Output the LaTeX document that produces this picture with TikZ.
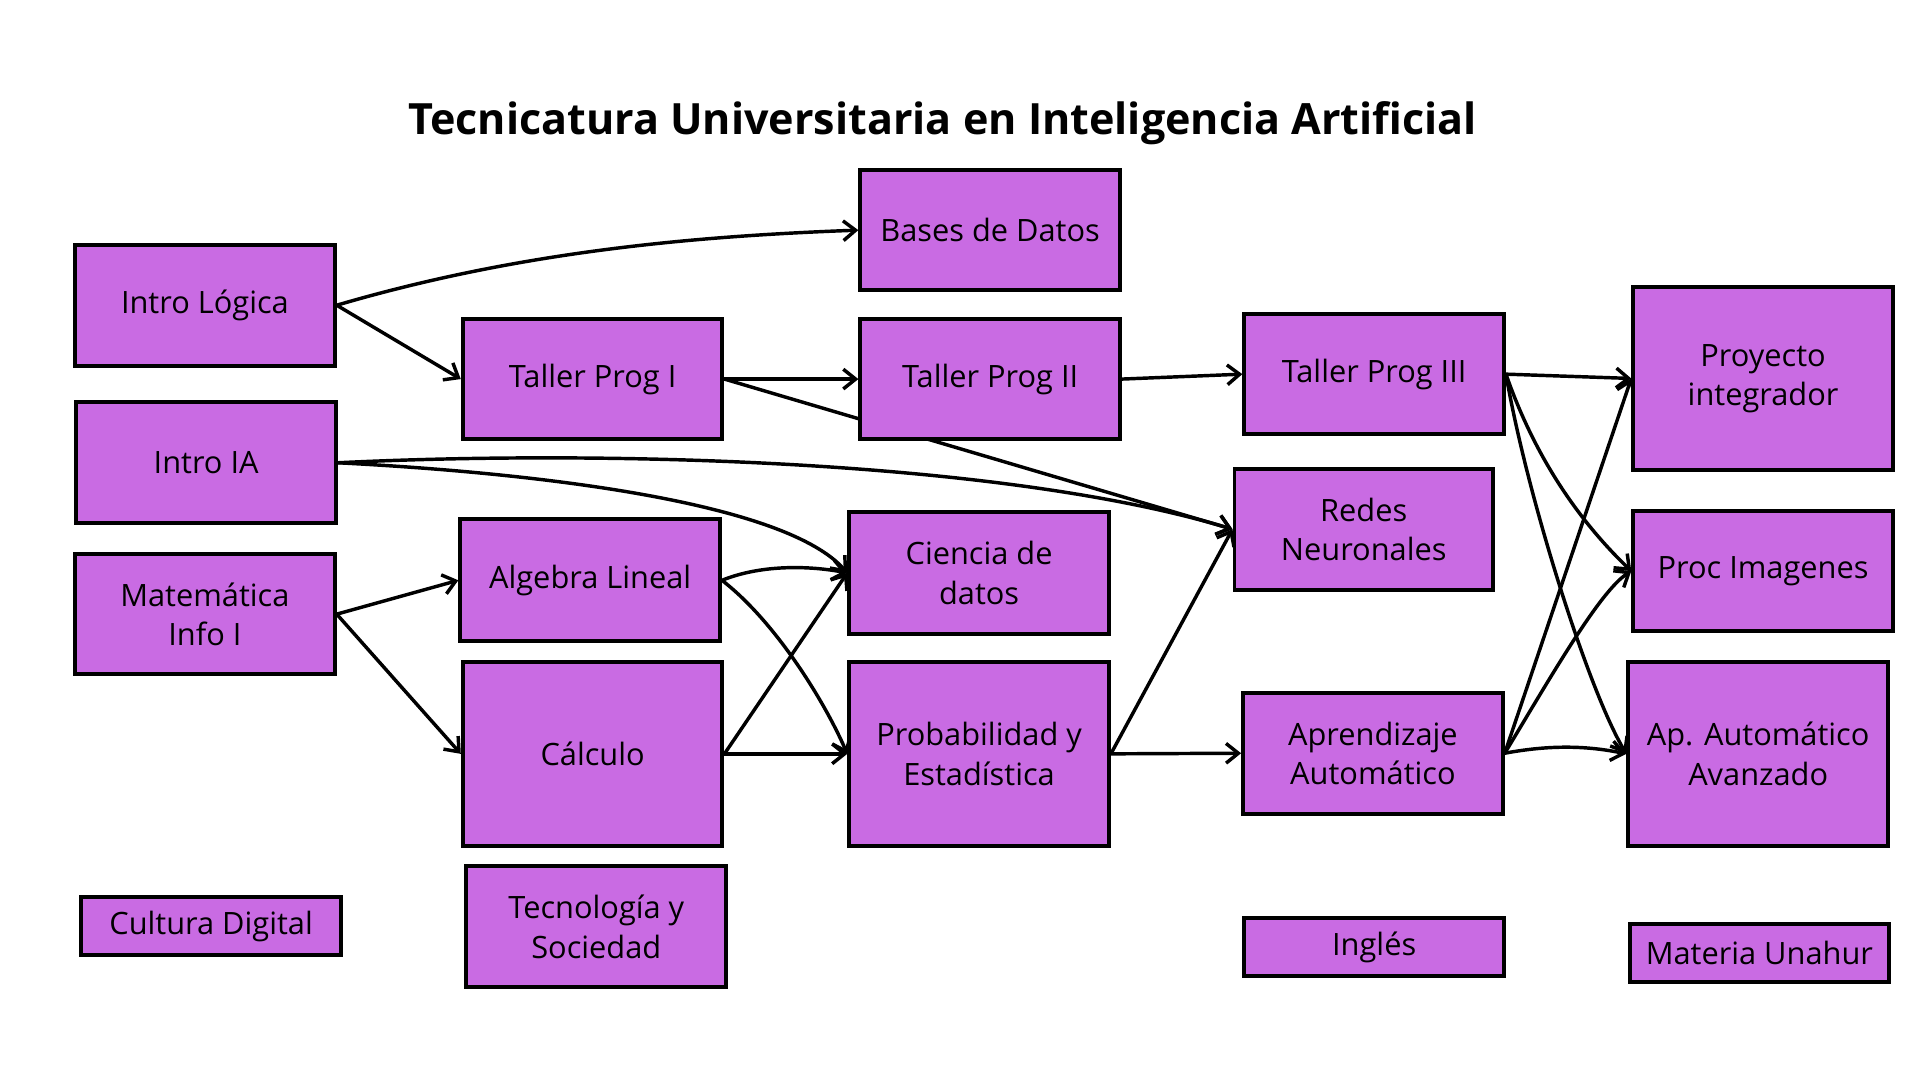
\documentclass[tikz,border=0pt]{standalone}
\usepackage{fontspec}
\setmainfont{Open Sans}
\usetikzlibrary{arrows.meta}
\definecolor{boxc}{HTML}{C96BE3}
\begin{document}
\begin{tikzpicture}[x=0.5pt,y=-0.5pt,
  bx/.style={draw=black,line width=1.6pt,fill=boxc,align=center,font=\fontsize{12.5}{16}\selectfont,inner sep=0pt},
  ar/.style={-{Straight Barb[length=5pt,width=8pt]},line width=1.4pt}]
\useasboundingbox (0,0) rectangle (1560,877);
\node[font=\bfseries\fontsize{17.5}{20}\selectfont] (title) at (766,100) {Tecnicatura Universitaria en Inteligencia Artificial};
\newcommand\bx[6]{\node[bx,minimum width=#4*0.5pt-#2*0.5pt,minimum height=#5*0.5pt-#3*0.5pt] (#1) at ({(#2+#4)/2},{(#3+#5)/2}) {#6};}
\bx{bd}{699}{138}{910}{236}{Bases de Datos}
\bx{il}{61}{199}{272}{297}{Intro Lógica}
\bx{t1}{376}{259}{587}{357}{Taller Prog I}
\bx{t2}{699}{259}{910}{357}{Taller Prog II}
\bx{t3}{1011}{255}{1222}{353}{Taller Prog III}
\bx{pi}{1327}{233}{1538}{382}{Proyecto\\integrador}
\bx{ia}{62}{327}{273}{425}{Intro IA}
\bx{rn}{1003}{381}{1213}{479}{Redes\\Neuronales}
\bx{pr}{1327}{415}{1538}{513}{Proc Imagenes}
\bx{mi}{61}{450}{272}{548}{Matemática\\Info I}
\bx{al}{374}{422}{585}{521}{Algebra Lineal}
\bx{cd}{690}{416}{901}{515}{Ciencia de\\datos}
\bx{ca}{376}{538}{587}{687}{Cálculo}
\bx{pe}{690}{538}{901}{687}{Probabilidad y\\Estadística}
\bx{aa}{1010}{563}{1221}{661}{Aprendizaje\\Automático}
\bx{av}{1323}{538}{1534}{687}{Ap. Automático\\Avanzado}
\bx{cu}{66}{729}{277}{776}{Cultura Digital}
\bx{ts}{379}{704}{590}{802}{Tecnología y\\Sociedad}
\bx{in}{1011}{746}{1222}{793}{Inglés}
\bx{mu}{1324}{751}{1535}{798}{Materia Unahur}
\begin{scope}[on background layer/.style={}]
\end{scope}
\pgfdeclarelayer{bg}\pgfsetlayers{bg,main}
\begin{pgfonlayer}{bg}
\draw[ar] (il.east) .. controls (420,205) and (560,192) .. (bd.west);
\draw[ar] (il.east) -- (t1.west);
\draw[ar] (t1.east) -- (t2.west);
\draw[ar] (t1.east) -- (rn.west);
\draw[ar] (t2.east) -- (t3.west);
\draw[ar] (ia.east) .. controls (500,365) and (820,375) .. (rn.west);
\draw[ar] (ia.east) .. controls (450,385) and (640,410) .. (cd.west);
\draw[ar] (mi.east) -- (al.west);
\draw[ar] (mi.east) -- (ca.west);
\draw[ar] (al.east) .. controls (620,458) and (660,460) .. (cd.west);
\draw[ar] (al.east) .. controls (630,505) and (670,570) .. (pe.west);
\draw[ar] (ca.east) -- (cd.west);
\draw[ar] (ca.east) -- (pe.west);
\draw[ar] (pe.east) -- (rn.west);
\draw[ar] (pe.east) -- (aa.west);
\draw[ar] (t3.east) -- (pi.west);
\draw[ar] (t3.east) .. controls (1250,380) and (1290,430) .. (pr.west);
\draw[ar] (t3.east) .. controls (1240,400) and (1290,560) .. (av.west);
\draw[ar] (aa.east) -- (pi.west);
\draw[ar] (aa.east) .. controls (1260,550) and (1300,480) .. (pr.west);
\draw[ar] (aa.east) .. controls (1260,605) and (1290,606) .. (av.west);
\end{pgfonlayer}
\end{tikzpicture}
\end{document}
